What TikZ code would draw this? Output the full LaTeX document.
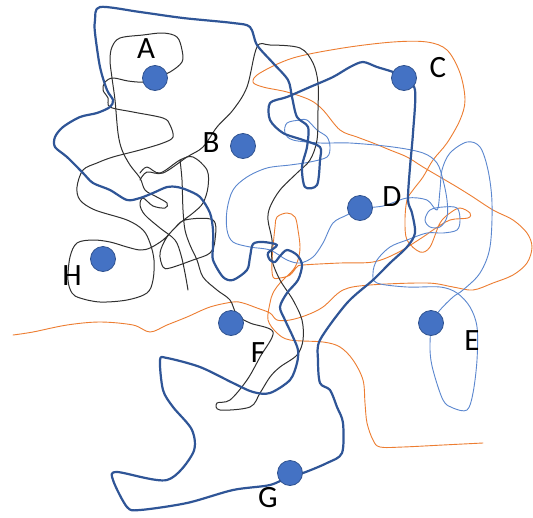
\documentclass[tikz,border=0pt]{standalone}
\usepackage{fontspec}
\setmainfont{Carlito}
\definecolor{dblue}{HTML}{2F5597}
\definecolor{lblue}{HTML}{5B87CF}
\definecolor{orng}{HTML}{ED7D31}
\definecolor{dotfill}{HTML}{4472C4}
\definecolor{dotedge}{HTML}{2F528F}
\definecolor{blk}{HTML}{303030}
\begin{document}
\begin{tikzpicture}[x=1pt,y=-1pt,
  darkline/.style={draw=dblue,line width=2.2pt,line join=round,line cap=round},
  blackline/.style={draw=blk,line width=1pt,line join=round,line cap=round},
  orangeline/.style={draw=orng,line width=0.9pt,line join=round,line cap=round},
  lightline/.style={draw=lblue,line width=0.9pt,line join=round,line cap=round},
  dotnode/.style={circle,fill=dotfill,draw=dotedge,line width=0.8pt,minimum size=25pt,inner sep=0pt},
  lbl/.style={font=\fontsize{31}{32}\selectfont,text=black,inner sep=0pt}]
\useasboundingbox (0,0) rectangle (533,517);
\fill[white] (0,0) rectangle (533,517);

% orange stroke
\draw[orangeline] plot[smooth,tension=0.55] coordinates {
(13,335) (33,332) (67,325) (100,322) (133,325) (150,332) (167,325) (187,317) (210,307) (233,302) (243,303) (257,308) (270,313) (277,320) (290,320) (307,315) (323,307) (343,290) (370,285) (427,283) (453,287) (473,290) (493,283) (513,275) (527,263) (532,247) (527,233) (513,220) (493,210) (473,197) (457,187) (440,177) (423,167) (407,157) (390,150) (373,143) (357,137) (340,130) (323,110) (310,100) (287,92) (263,87) (253,82) (260,73) (293,58) (343,48) (393,42) (427,42) (447,50) (460,73) (465,100) (460,120) (447,143) (433,160) (423,177) (413,190) (407,200) (405,220) (407,240) (420,252) (430,247) (440,223) (450,213) (460,208) (470,213) (468,218) (450,220) (433,230) (423,237) (397,253) (373,262) (340,263) (303,265) (297,267) (290,275) (280,278) (273,277) (272,260) (275,227) (277,217) (287,213) (295,217) (298,230) (300,247) (298,260) (293,270) (280,283) (273,293) (270,303) (268,320) (277,333) (290,340) (323,342) (340,347) (353,360) (363,380) (365,403) (367,423) (373,440) (380,447) (403,447) (443,445) (483,443)};

% light blue strokes
\draw[lightline] plot[smooth,tension=0.55] coordinates {
(360,208) (347,215) (333,223) (323,243) (313,257) (300,263) (287,260) (270,250) (250,247) (233,242) (227,230) (227,210) (233,190) (247,177) (267,168) (290,165) (310,162) (327,157) (330,147) (327,137) (317,130) (307,120) (300,120) (287,123) (285,133) (293,140) (320,143) (350,143) (393,147) (423,153) (437,163) (443,180) (447,200) (447,217) (440,227) (430,227) (425,220) (430,210) (443,207) (457,208) (460,220) (457,230) (443,233) (427,233) (407,240) (390,247) (377,260) (373,273) (377,283) (407,287) (440,287) (457,293) (470,307) (477,327) (477,360) (473,393) (467,410) (453,408) (443,400) (433,370) (430,350) (431,323)};
\draw[lightline] plot[smooth,tension=0.55] coordinates {
(360,208) (383,206) (407,198) (427,200) (437,210) (440,190) (442,170) (450,153) (467,142) (480,147) (488,170) (492,203) (490,247) (480,273) (463,290) (453,297) (440,310) (431,323)};

% black strokes
\draw[blackline] plot[smooth,tension=0.55] coordinates {
(155,78) (143,82) (128,81) (113,78) (105,82) (103,90) (108,98) (110,107) (133,112) (163,118) (170,125) (173,137) (163,143) (140,150) (113,157) (97,163) (83,170) (77,187) (80,200) (95,210) (127,220) (143,230) (150,243) (154,260) (153,280) (147,293) (127,300) (100,302) (80,298) (72,293) (68,280) (70,257) (77,243) (93,240) (110,242) (127,247) (140,250) (150,248) (163,240) (173,230) (185,220) (213,220) (215,240) (210,253) (193,260) (170,268) (163,267) (160,253) (167,237) (180,223) (193,213) (203,203) (208,187) (207,170) (193,157) (180,160) (160,173) (147,167) (140,173)};
\draw[blackline] plot[smooth,tension=0.55] coordinates {
(155,78) (170,72) (182,62) (182,50) (177,37) (163,33) (143,35) (120,38) (112,47) (110,60) (112,78) (115,100) (118,133) (122,150) (130,165) (140,178) (145,190) (155,196) (167,203) (165,208) (153,206) (143,198) (140,205) (145,215) (160,228) (175,240) (181,255) (185,273) (188,290)};
\draw[blackline] plot[smooth,tension=0.55] coordinates {
(140,180) (147,172) (163,173) (187,157) (203,147) (217,127) (233,110) (247,87) (257,47) (270,45) (300,48) (313,63) (318,83) (318,110) (317,140) (310,160) (297,173) (280,190) (270,207) (268,220) (272,240) (272,260) (280,280) (293,300) (302,320) (303,340) (297,355) (280,367) (270,377) (260,393) (250,407) (220,410) (217,403) (230,400) (247,380) (260,357) (273,332) (250,323) (237,315) (230,300) (217,290) (203,277) (197,260) (190,245) (185,230) (183,210) (182,180) (180,160)};

% dark blue closed stroke
\draw[darkline] plot[smooth cycle,tension=0.5] coordinates {
(100,7) (140,12) (183,18) (233,23) (250,27) (257,45) (273,63) (288,80) (292,97) (297,117) (308,127) (307,147) (302,167) (305,187) (317,185) (320,160) (320,147) (303,140) (283,133) (270,120) (270,103) (287,97) (310,87) (333,77) (350,67) (363,62) (377,67) (393,72) (404,78) (415,90) (413,133) (410,167) (408,200) (412,213) (415,233) (407,247) (390,263) (373,280) (347,303) (320,340) (318,360) (320,383) (330,390) (337,407) (343,423) (342,453) (327,463) (303,473) (290,476) (270,485) (233,490) (187,503) (140,510) (127,507) (113,480) (117,472) (167,480) (193,453) (192,430) (173,407) (163,390) (160,360) (167,358) (200,367) (233,383) (253,392) (270,393) (290,380) (297,363) (298,350) (293,337) (285,320) (280,307) (287,293) (298,280) (302,265) (297,255) (287,250) (280,256) (275,262) (270,260) (268,253) (277,245) (263,242) (253,244) (250,257) (247,270) (233,280) (223,277) (213,260) (213,247) (213,230) (210,213) (200,197) (187,190) (177,187) (167,187) (153,193) (140,198) (127,200) (110,190) (93,183) (83,173) (67,157) (55,147) (55,137) (63,127) (80,117) (97,113) (110,107) (113,100) (107,90) (100,67) (95,33) (95,20)};

% dots
\node[dotnode] (dA) at (155,78) {};
\node[dotnode] (dB) at (243,146) {};
\node[dotnode] (dC) at (404,78) {};
\node[dotnode] (dD) at (360,208) {};
\node[dotnode] (dE) at (431,323) {};
\node[dotnode] (dF) at (231,323) {};
\node[dotnode] (dG) at (290,473) {};
\node[dotnode] (dH) at (103,259) {};

% labels
\node[lbl] (lA) at (146,49) {A};
\node[lbl] (lB) at (211,143) {B};
\node[lbl] (lC) at (438,68) {C};
\node[lbl] (lD) at (392,197) {D};
\node[lbl] (lE) at (472,341) {E};
\node[lbl] (lF) at (258,353) {F};
\node[lbl] (lG) at (268,498) {G};
\node[lbl] (lH) at (72,276) {H};
\end{tikzpicture}
\end{document}
